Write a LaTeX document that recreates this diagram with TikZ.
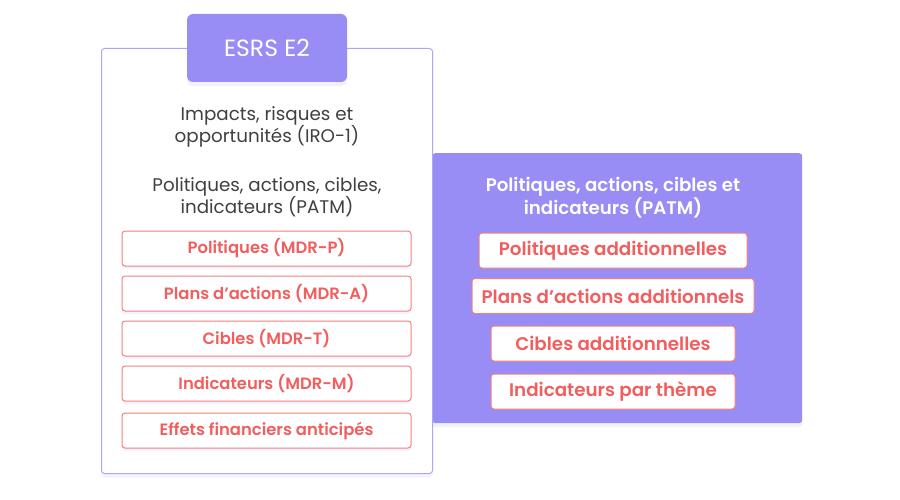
\documentclass[tikz,border=0pt]{standalone}
\usepackage{fontspec}
\setmainfont{Poppins}
\newfontfamily\semibold{Poppins SemiBold}
\usetikzlibrary{positioning,shadows}
\definecolor{lavender}{RGB}{151,141,244}
\definecolor{lavline}{RGB}{172,166,250}
\definecolor{salmon}{RGB}{242,94,94}
\definecolor{salmonline}{RGB}{244,128,128}
\definecolor{textgray}{RGB}{64,64,64}
\tikzstyle{panel}   = [draw=lavline, fill=white, line width=1pt, rounded corners=3pt, inner sep=0pt, drop shadow={shadow xshift=0pt, shadow yshift=-4pt, opacity=0.10, fill=lavender}]
\tikzstyle{extrabox}= [fill=lavender, rounded corners=3pt, inner sep=0pt, drop shadow={shadow xshift=0pt, shadow yshift=-4pt, opacity=0.12, fill=lavender}]
\tikzstyle{tab}     = [fill=lavender, rounded corners=6pt, text=white, minimum width=160pt, minimum height=68pt, font=\fontsize{23.5}{28}\selectfont, drop shadow={shadow xshift=0pt, shadow yshift=-4pt, opacity=0.12, fill=lavender}]
\tikzstyle{heading} = [text=textgray, align=center, font=\fontsize{18.3}{22}\selectfont]
\tikzstyle{subhead} = [text=white, align=center, font=\semibold\fontsize{18.2}{23}\selectfont]
\tikzstyle{item}    = [draw=salmonline, fill=white, text=salmon, line width=1pt, rounded corners=3pt, minimum height=35pt, inner sep=0pt, font=\semibold\fontsize{16.4}{19}\selectfont, drop shadow={shadow xshift=0pt, shadow yshift=-3pt, opacity=0.10, fill=lavender}]
\tikzstyle{extra}   = [item, font=\semibold\fontsize{18.3}{21}\selectfont]

\begin{document}
\begin{tikzpicture}[x=1pt, y=-1pt]
		\useasboundingbox (0,0) rectangle (900,500);

		% right panel
		\node[extrabox, anchor=north west, minimum width=370pt, minimum height=270pt] (extrapanel) at (432,153) {};
		\node[subhead] (extrahead) at (613,197.5) {Politiques, actions, cibles et\\indicateurs (PATM)};
		\node[extra, minimum width=268pt] (addpol) at (613,250.5) {Politiques additionnelles};
		\node[extra, minimum width=282pt] (addplan) at (613,296) {Plans d’actions additionnels};
		\node[extra, minimum width=244pt] (addcib) at (613,343.5) {Cibles additionnelles};
		\node[extra, minimum width=244pt] (addind) at (613,391.5) {Indicateurs par thème};

		% left panel
		\node[panel, anchor=north west, minimum width=331pt, minimum height=425pt] (mainpanel) at (101,48) {};
		\node[tab] (title) at (267,48) {ESRS E2};
		\node[heading] (iro) at (267,127) {Impacts, risques et\\opportunités (IRO-1)};
		\node[heading] (patm) at (267,197) {Politiques, actions, cibles,\\indicateurs (PATM)};

		\node[item, minimum width=289pt] (mdrp) at (266.5,248.5) {Politiques (MDR-P)};
		\node[item, minimum width=289pt] (mdra) at (266.5,293.5) {Plans d’actions (MDR-A)};
		\node[item, minimum width=289pt] (mdrt) at (266.5,338.5) {Cibles (MDR-T)};
		\node[item, minimum width=289pt] (mdrm) at (266.5,383.5) {Indicateurs (MDR-M)};
		\node[item, minimum width=289pt] (effets) at (266.5,430.5) {Effets financiers anticipés};
	\end{tikzpicture}
\end{document}
